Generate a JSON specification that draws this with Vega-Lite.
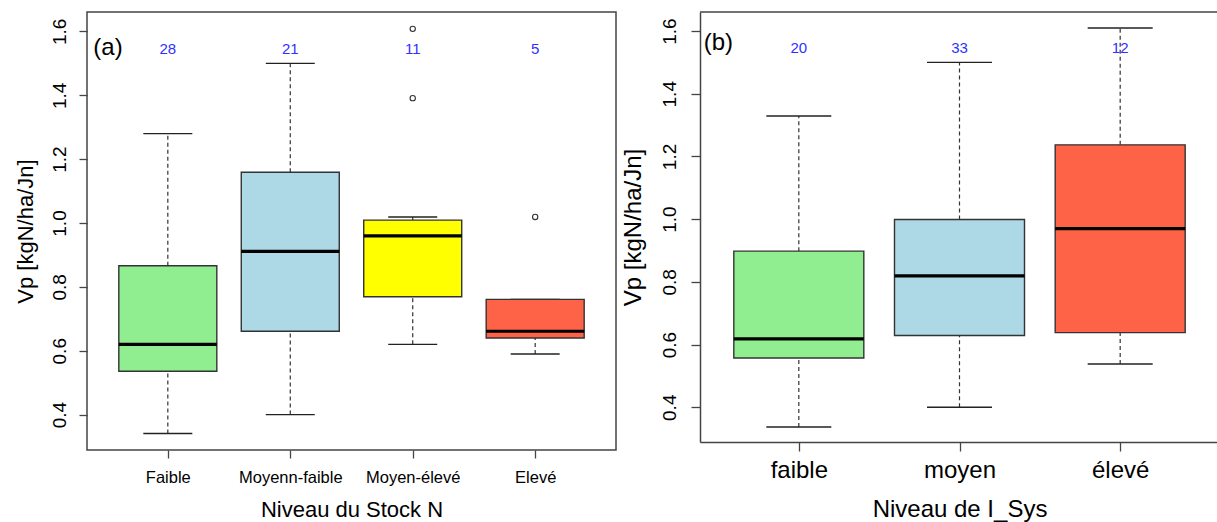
{
  "$schema": "https://vega.github.io/schema/vega-lite/v6.json",
  "background": "white",
  "autosize": {"type": "pad"},
  "padding": {"left": 13, "top": 11, "right": 0, "bottom": 2},
  "bounds": "flush",
  "spacing": 84,
  "config": {
    "font": "Liberation Sans",
    "view": {"stroke": "#444", "strokeWidth": 1.5},
    "tick": {"opacity": 1},
    "axis": {"grid": false, "domain": false, "tickColor": "#444", "tickWidth": 1.3, "labelColor": "black", "titleColor": "black", "titleFontWeight": "normal", "labelFont": "Liberation Sans", "titleFont": "Liberation Sans", "labelOverlap": false, "labelFlush": false}
  },
  "datasets": {
    "statsA": [
      {"group": "Faible", "lower": 0.341, "q1": 0.536, "median": 0.62, "q3": 0.866, "upper": 1.28, "n": 28},
      {"group": "Moyenn-faible", "lower": 0.40, "q1": 0.661, "median": 0.911, "q3": 1.159, "upper": 1.50, "n": 21},
      {"group": "Moyen-élevé", "lower": 0.62, "q1": 0.769, "median": 0.96, "q3": 1.009, "upper": 1.019, "n": 11},
      {"group": "Elevé", "lower": 0.59, "q1": 0.64, "median": 0.661, "q3": 0.761, "upper": 0.761, "n": 5}
    ],
    "outA": [
      {"group": "Moyen-élevé", "value": 1.608},
      {"group": "Moyen-élevé", "value": 1.391},
      {"group": "Elevé", "value": 1.019}
    ],
    "statsB": [
      {"group": "faible", "lower": 0.337, "q1": 0.557, "median": 0.618, "q3": 0.898, "upper": 1.329, "n": 20},
      {"group": "moyen", "lower": 0.40, "q1": 0.629, "median": 0.819, "q3": 0.999, "upper": 1.50, "n": 33},
      {"group": "élevé", "lower": 0.538, "q1": 0.638, "median": 0.97, "q3": 1.237, "upper": 1.61, "n": 12}
    ]
  },
  "hconcat": [
    {
      "width": 529,
      "height": 438,
      "title": {"text": "(a)", "anchor": "start", "frame": "group", "orient": "top", "offset": -48, "dx": 6.3, "baseline": "top", "fontSize": 24, "fontWeight": "normal", "font": "Liberation Sans", "color": "black"},
      "data": {"name": "statsA"},
      "encoding": {
        "x": {
          "field": "group", "type": "nominal",
          "sort": ["Faible", "Moyenn-faible", "Moyen-élevé", "Elevé"],
          "scale": {"type": "point", "padding": 0.66},
          "title": "Niveau du Stock N",
          "axis": {"labelAngle": 0, "labelFontSize": 16.5, "labelPadding": 11, "tickSize": 8, "titleFontSize": 22, "titlePadding": 14}
        }
      },
      "layer": [
        {
          "mark": {"type": "rule", "strokeDash": [4, 3], "strokeWidth": 1.2, "color": "#333"},
          "encoding": {
            "y": {"field": "lower", "type": "quantitative", "title": "Vp [kgN/ha/Jn]",
              "scale": {"domain": [0.2892, 1.6608], "nice": false, "zero": false},
              "axis": {"title": "Vp [kgN/ha/Jn]", "values": [0.4, 0.6, 0.8, 1.0, 1.2, 1.4, 1.6], "format": ".1f", "labelAngle": -90, "labelAlign": "center", "labelBaseline": "bottom", "labelFontSize": 19, "labelPadding": 10, "tickSize": 8, "titleFontSize": 22, "titlePadding": 13}},
            "y2": {"field": "q1", "title": "Vp [kgN/ha/Jn]"}
          }
        },
        {
          "mark": {"type": "rule", "strokeDash": [4, 3], "strokeWidth": 1.2, "color": "#333"},
          "encoding": {
            "y": {"field": "q3", "type": "quantitative", "title": "Vp [kgN/ha/Jn]"},
            "y2": {"field": "upper", "title": "Vp [kgN/ha/Jn]"}
          }
        },
        {
          "mark": {"type": "tick", "size": 49, "thickness": 1.4, "color": "#222", "opacity": 1},
          "encoding": {"y": {"field": "lower", "type": "quantitative", "title": "Vp [kgN/ha/Jn]"}}
        },
        {
          "mark": {"type": "tick", "size": 49, "thickness": 1.4, "color": "#222", "opacity": 1},
          "encoding": {"y": {"field": "upper", "type": "quantitative", "title": "Vp [kgN/ha/Jn]"}}
        },
        {
          "mark": {"type": "bar", "size": 98, "stroke": "#333", "strokeWidth": 1.4},
          "encoding": {
            "y": {"field": "q1", "type": "quantitative", "title": "Vp [kgN/ha/Jn]"},
            "y2": {"field": "q3", "title": "Vp [kgN/ha/Jn]"},
            "color": {"field": "group", "type": "nominal", "legend": null,
              "scale": {"domain": ["Faible", "Moyenn-faible", "Moyen-élevé", "Elevé"], "range": ["#90EE90", "#ADD8E6", "#FFFF00", "#FF6347"]}}
          }
        },
        {
          "mark": {"type": "tick", "size": 98, "thickness": 3.2, "color": "black", "opacity": 1},
          "encoding": {"y": {"field": "median", "type": "quantitative", "title": "Vp [kgN/ha/Jn]"}}
        },
        {
          "data": {"name": "outA"},
          "mark": {"type": "point", "filled": false, "size": 28, "color": "#333", "strokeWidth": 1.1, "opacity": 1},
          "encoding": {"y": {"field": "value", "type": "quantitative", "title": "Vp [kgN/ha/Jn]"}}
        },
        {
          "mark": {"type": "text", "color": "#3030ff", "fontSize": 15, "baseline": "middle", "align": "center"},
          "encoding": {"y": {"datum": 1.545}, "text": {"field": "n", "type": "quantitative"}}
        }
      ]
    },
    {
      "width": 519,
      "height": 430,
      "view": {"stroke": null},
      "title": {"text": "(b)", "anchor": "start", "frame": "group", "orient": "top", "offset": -44, "dx": 3.7, "baseline": "top", "fontSize": 24, "fontWeight": "normal", "font": "Liberation Sans", "color": "black"},
      "data": {"name": "statsB"},
      "layer": [
        {
          "mark": {"type": "rule", "strokeDash": [4, 3], "strokeWidth": 1.2, "color": "#333"},
          "encoding": {
            "x": {
              "field": "group", "type": "nominal",
              "sort": ["faible", "moyen", "élevé"],
              "scale": {"type": "point", "padding": 0.615},
              "title": "Niveau de I_Sys",
              "axis": {"labelAngle": 0, "labelFontSize": 24, "labelPadding": 7, "tickSize": 9, "titleFontSize": 24, "titlePadding": 15, "domain": true, "domainColor": "#444", "domainWidth": 1.5}
            },
            "y": {"field": "lower", "type": "quantitative", "title": "Vp [kgN/ha/Jn]",
              "scale": {"domain": [0.2892, 1.6608], "nice": false, "zero": false},
              "axis": {"title": "Vp [kgN/ha/Jn]", "values": [0.4, 0.6, 0.8, 1.0, 1.2, 1.4, 1.6], "format": ".1f", "labelAngle": -90, "labelAlign": "center", "labelBaseline": "bottom", "labelFontSize": 19, "labelPadding": 12, "tickSize": 9, "titleFontSize": 24, "titlePadding": 15, "domain": true, "domainColor": "#444", "domainWidth": 1.5}},
            "y2": {"field": "q1", "title": "Vp [kgN/ha/Jn]"}
          }
        },
        {
          "mark": {"type": "rule", "strokeDash": [4, 3], "strokeWidth": 1.2, "color": "#333"},
          "encoding": {
            "x": {"field": "group", "type": "nominal", "sort": ["faible", "moyen", "élevé"], "title": "Niveau de I_Sys"},
            "y": {"field": "q3", "type": "quantitative", "title": "Vp [kgN/ha/Jn]"},
            "y2": {"field": "upper", "title": "Vp [kgN/ha/Jn]"}
          }
        },
        {
          "mark": {"type": "tick", "size": 65, "thickness": 1.4, "color": "#222", "opacity": 1},
          "encoding": {
            "x": {"field": "group", "type": "nominal", "sort": ["faible", "moyen", "élevé"], "title": "Niveau de I_Sys"},
            "y": {"field": "lower", "type": "quantitative", "title": "Vp [kgN/ha/Jn]"}
          }
        },
        {
          "mark": {"type": "tick", "size": 65, "thickness": 1.4, "color": "#222", "opacity": 1},
          "encoding": {
            "x": {"field": "group", "type": "nominal", "sort": ["faible", "moyen", "élevé"], "title": "Niveau de I_Sys"},
            "y": {"field": "upper", "type": "quantitative", "title": "Vp [kgN/ha/Jn]"}
          }
        },
        {
          "mark": {"type": "bar", "size": 130, "stroke": "#333", "strokeWidth": 1.4},
          "encoding": {
            "x": {"field": "group", "type": "nominal", "sort": ["faible", "moyen", "élevé"], "title": "Niveau de I_Sys"},
            "y": {"field": "q1", "type": "quantitative", "title": "Vp [kgN/ha/Jn]"},
            "y2": {"field": "q3", "title": "Vp [kgN/ha/Jn]"},
            "color": {"field": "group", "type": "nominal", "legend": null,
              "scale": {"domain": ["faible", "moyen", "élevé"], "range": ["#90EE90", "#ADD8E6", "#FF6347"]}}
          }
        },
        {
          "mark": {"type": "tick", "size": 130, "thickness": 3.2, "color": "black", "opacity": 1},
          "encoding": {
            "x": {"field": "group", "type": "nominal", "sort": ["faible", "moyen", "élevé"], "title": "Niveau de I_Sys"},
            "y": {"field": "median", "type": "quantitative", "title": "Vp [kgN/ha/Jn]"}
          }
        },
        {
          "mark": {"type": "text", "color": "#3030ff", "fontSize": 15, "baseline": "middle", "align": "center"},
          "encoding": {
            "x": {"field": "group", "type": "nominal", "sort": ["faible", "moyen", "élevé"], "title": "Niveau de I_Sys"},
            "y": {"datum": 1.545},
            "text": {"field": "n", "type": "quantitative"}
          }
        },
        {
          "data": {"values": [{"edge": "top"}]},
          "mark": {"type": "rule", "color": "#444", "strokeWidth": 1.5},
          "encoding": {"y": {"datum": 1.6608}}
        }
      ]
    }
  ],
  "resolve": {"scale": {"color": "independent", "x": "independent", "y": "independent"}}
}
